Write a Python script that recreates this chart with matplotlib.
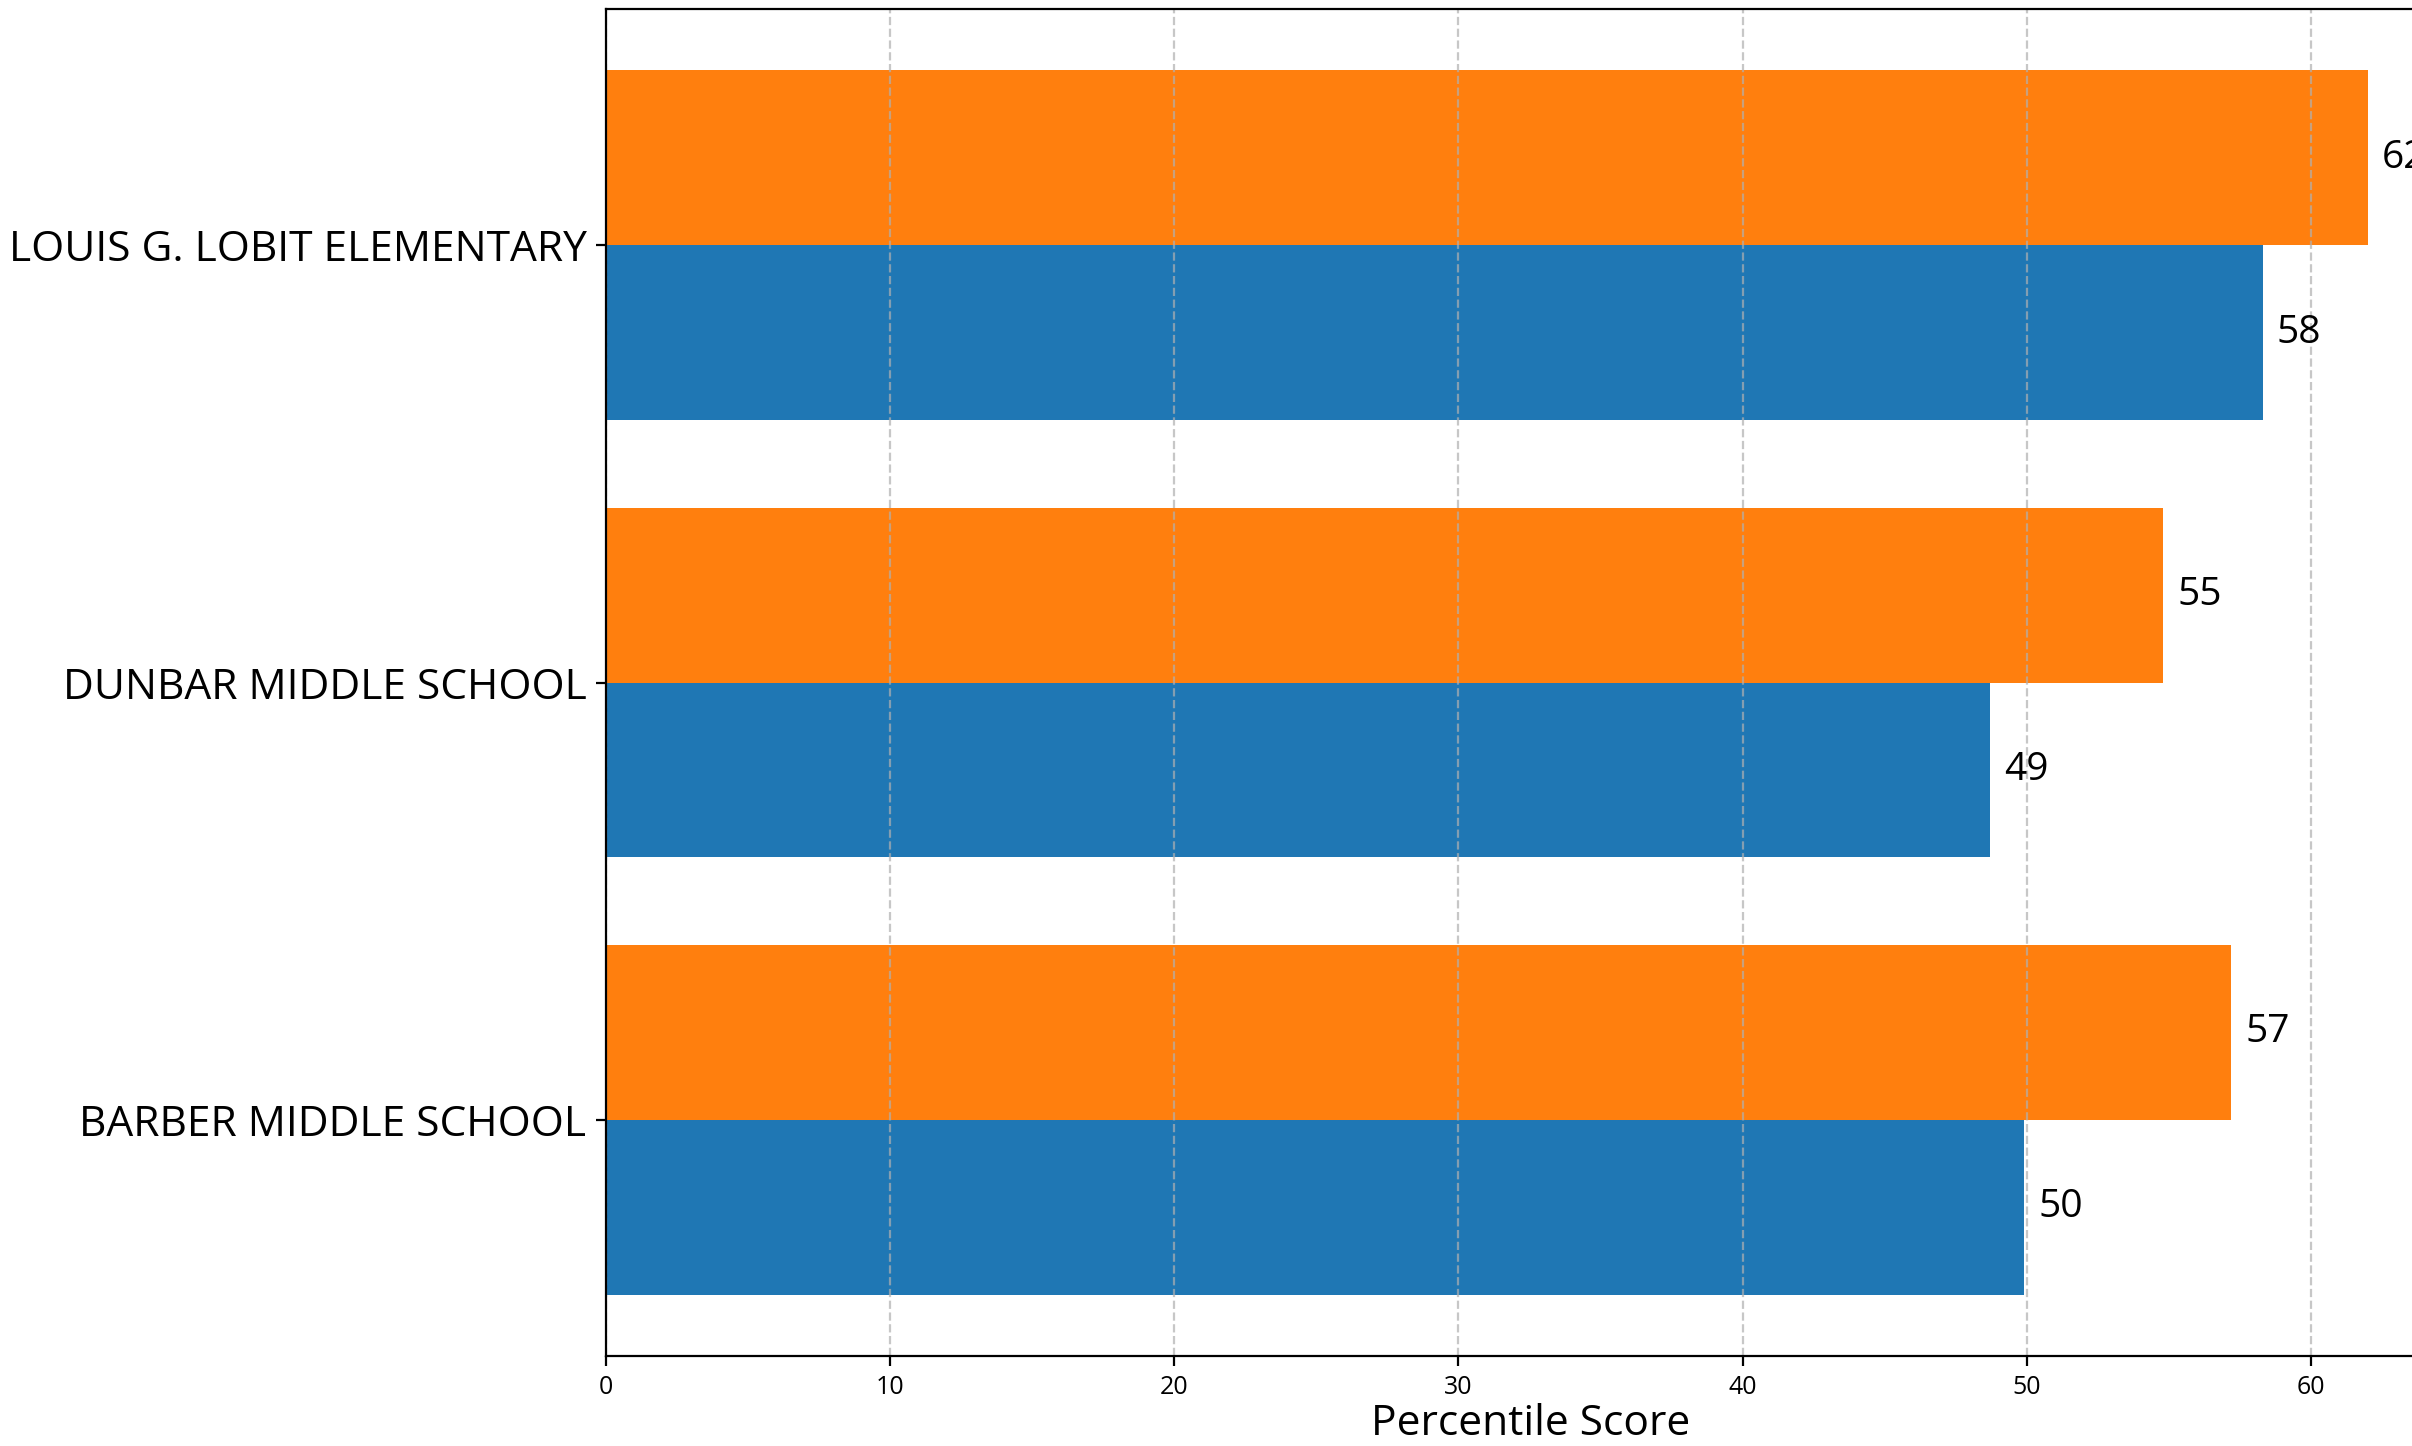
import matplotlib
matplotlib.use("Agg")
import matplotlib.pyplot as plt
import numpy as np

plt.rcParams['font.family'] = ['Open Sans', 'DejaVu Sans']

# schools, bottom to top
schools = ["BARBER MIDDLE SCHOOL", "DUNBAR MIDDLE SCHOOL", "LOUIS G. LOBIT ELEMENTARY"]
blue_scores = [49.9, 48.7, 58.3]
orange_scores = [57.2, 54.8, 62.0]

BLUE = "#1f77b4"
ORANGE = "#ff7f0e"

fig = plt.figure(figsize=(12.06, 7.23), dpi=200)
# axes runs past the right edge of the canvas, like the cropped original
ax = fig.add_axes([0.2512, 0.0624, 0.767, 0.9312])

y = np.arange(len(schools))
h = 0.4
ax.barh(y - h / 2, blue_scores, height=h, color=BLUE)
ax.barh(y + h / 2, orange_scores, height=h, color=ORANGE)

# value labels just past the bar ends
for yi, v in zip(y - h / 2, blue_scores):
    ax.text(v + 0.5, yi, f"{v:.0f}", va='center', ha='left', fontsize=14)
for yi, v in zip(y + h / 2, orange_scores):
    ax.text(v + 0.5, yi, f"{v:.0f}", va='center', ha='left', fontsize=14)

ax.set_yticks(y)
ax.set_yticklabels(schools, fontsize=15.3)
ax.tick_params(axis='x', labelsize=9)
ax.set_xlabel("Percentile Score", fontsize=15.3, labelpad=1)
ax.xaxis.grid(True, linestyle='--', alpha=0.7)

fig.savefig("out.png", dpi=200)
